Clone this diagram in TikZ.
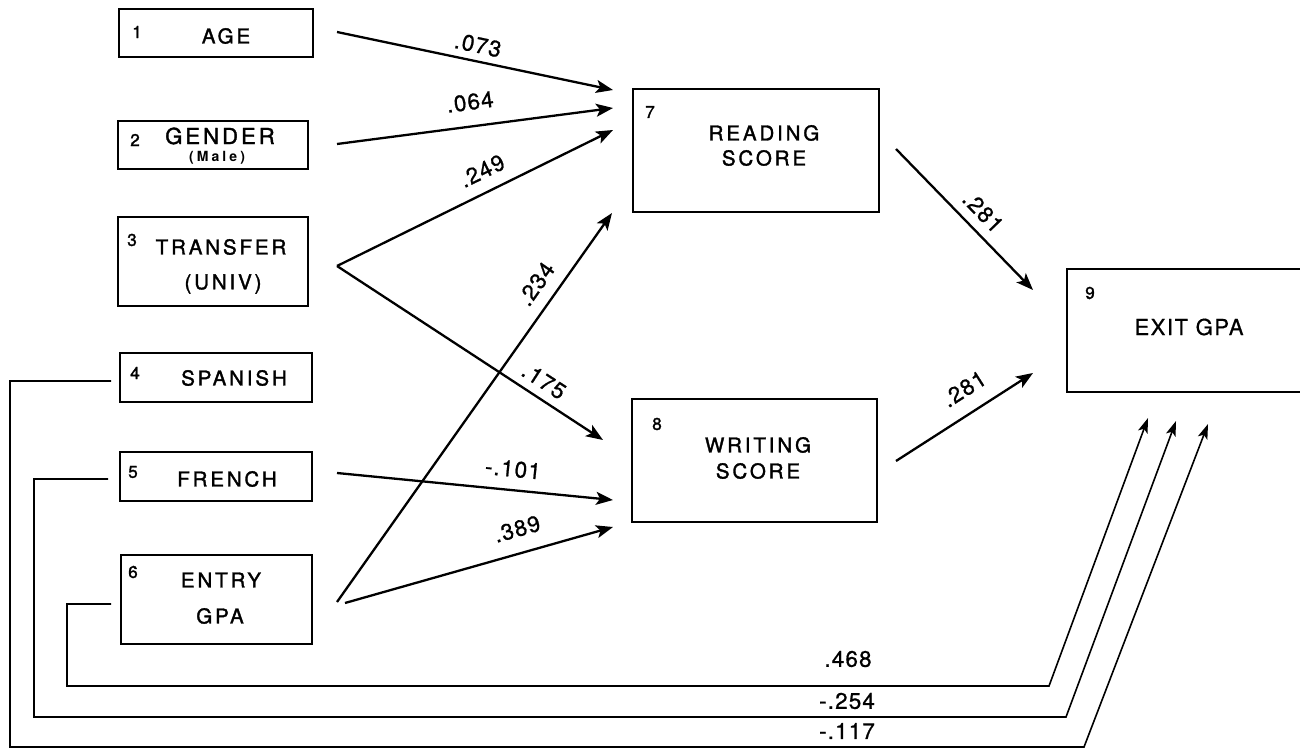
\documentclass[tikz,border=0pt]{standalone}
\usepackage{fontspec}
\setmainfont{TeX Gyre Heros}
\newfontfamily\boxfont{TeX Gyre Heros}[LetterSpace=14,FakeBold=1.6]
\newfontfamily\tagfont{TeX Gyre Heros}[FakeBold=1.8]
\newfontfamily\smallfont{TeX Gyre Heros}[LetterSpace=22]
\newfontfamily\numfont{TeX Gyre Heros}[LetterSpace=5,FakeBold=0.8]
\newfontfamily\exitfont{TeX Gyre Heros}[LetterSpace=7,FakeBold=0.6]
\usetikzlibrary{arrows.meta}

\begin{document}
\begin{tikzpicture}[x=1pt,y=-1pt,
  var/.style={draw, line width=1.5pt, anchor=north west, inner sep=0pt, outer sep=0pt},
  tag/.style={font=\tagfont\fontsize{17}{19}\selectfont, inner sep=0pt},
  vname/.style={font=\boxfont\fontsize{20.5}{22}\selectfont, inner sep=0pt},
  coef/.style={font=\numfont\fontsize{22.5}{24}\selectfont, inner sep=0pt},
  effect/.style={line width=2.3pt, -{Stealth[length=17pt,width=13pt,inset=4pt]}},
  link/.style={line width=1.6pt, -{Stealth[length=15pt,width=10pt,inset=3.5pt]}},
]
\clip (0,0) rectangle (1300,751);

% ---- exogenous variables ----
\node[var, minimum width=194pt, minimum height=48pt] (b1) at (119,9) {};
\node[tag] (n1) at (137,32) {1};
\node[vname] (t1) at (226,36) {AGE};

\node[var, minimum width=190pt, minimum height=48pt] (b2) at (118,121) {};
\node[tag] (n2) at (135,140) {2};
\node[vname, font=\boxfont\fontsize{22}{24}\selectfont] (t2) at (220,136) {GENDER};
\node[inner sep=0pt, font=\smallfont\bfseries\fontsize{14}{16}\selectfont] (t2b) at (217,158) {(Male)};

\node[var, minimum width=190pt, minimum height=89pt] (b3) at (118,217) {};
\node[tag] (n3) at (132,240) {3};
\node[vname] (t3) at (221,247) {TRANSFER};
\node[vname] (t3b) at (223,284) {(UNIV)};

\node[var, minimum width=192pt, minimum height=49pt] (b4) at (120,353) {};
\node[tag] (n4) at (135,373) {4};
\node[vname] (t4) at (234,378) {SPANISH};

\node[var, minimum width=192pt, minimum height=49pt] (b5) at (120,452) {};
\node[tag] (n5) at (133,472) {5};
\node[vname] (t5) at (227,479) {FRENCH};

\node[var, minimum width=191pt, minimum height=89pt] (b6) at (121,555) {};
\node[tag] (n6) at (133,572) {6};
\node[vname] (t6) at (221,580) {ENTRY};
\node[vname] (t6b) at (220,616) {GPA};

% ---- mediators ----
\node[var, minimum width=246pt, minimum height=123pt] (b7) at (633,89) {};
\node[tag] (n7) at (650,112) {7};
\node[vname] (t7) at (764,133) {READING};
\node[vname] (t7b) at (764,158) {SCORE};

\node[var, minimum width=245pt, minimum height=123pt] (b8) at (632,399) {};
\node[tag] (n8) at (657,424) {8};
\node[vname] (t8) at (758,445) {WRITING};
\node[vname] (t8b) at (758,471) {SCORE};

% ---- outcome ----
\node[var, minimum width=260pt, minimum height=123pt] (b9) at (1067,269) {};
\node[tag] (n9) at (1090,293) {9};
\node[inner sep=0pt, font=\exitfont\fontsize{22}{24}\selectfont] (t9) at (1189,327) {EXIT GPA};

% ---- path end points ----
\coordinate (s1) at (337,32);   \coordinate (e1) at (613,90);
\coordinate (s2) at (337,144);  \coordinate (e2) at (613,108);
\coordinate (s3) at (337,266);  \coordinate (e3) at (613,130);
\coordinate (s6) at (337,602);  \coordinate (e4) at (612,213);
\coordinate (e5) at (603,440);
\coordinate (s5) at (337,473);  \coordinate (e6) at (613,500);
\coordinate (s6b) at (345,603); \coordinate (e7) at (613,527);
\coordinate (s7) at (896,149);  \coordinate (e8) at (1033,290);
\coordinate (s8) at (896,461);  \coordinate (e9) at (1033,373);

\draw[effect] (s1) -- (e1);
\draw[effect] (s2) -- (e2);
\draw[effect] (s3) -- (e3);
\draw[effect] (s6) -- (e4);
\draw[effect] (s3) -- (e5);
\draw[effect] (s5) -- (e6);
\draw[effect] (s6b) -- (e7);
\draw[effect] (s7) -- (e8);
\draw[effect] (s8) -- (e9);

\node[coef, rotate=-12]   (c1) at (478,45)  {.073};
\node[coef, rotate=7.5]   (c2) at (470,102) {.064};
\node[coef, rotate=26]    (c3) at (482,171) {.249};
\node[coef, rotate=55]    (c4) at (536,284) {.234};
\node[coef, rotate=-33]   (c5) at (544,381) {.175};
\node[coef, rotate=-5.6]  (c6) at (513,469) {-.101};
\node[coef, rotate=15.8]  (c7) at (517,529) {.389};
\node[coef, rotate=-46]   (c8) at (983,212) {.281};
\node[coef, rotate=32.7]  (c9) at (964,389) {.281};

% ---- direct effects on exit GPA ----
\coordinate (d6) at (111,604); \coordinate (k6) at (67,686);  \coordinate (m6) at (1049,686); \coordinate (g6) at (1148,418);
\coordinate (d5) at (108,479); \coordinate (k5) at (34,717);  \coordinate (m5) at (1066,717); \coordinate (g5) at (1176,421);
\coordinate (d4) at (111,381); \coordinate (k4) at (10,747);  \coordinate (m4) at (1084,747); \coordinate (g4) at (1208,424);

\draw[link] (d6) -| (k6) -- (m6) -- (g6);
\draw[link] (d5) -| (k5) -- (m5) -- (g5);
\draw[link] (d4) -| (k4) -- (m4) -- (g4);

\node[coef] (c10) at (848,659) {.468};
\node[coef] (c11) at (847,701) {-.254};
\node[coef] (c12) at (847,731) {-.117};
\end{tikzpicture}
\end{document}
